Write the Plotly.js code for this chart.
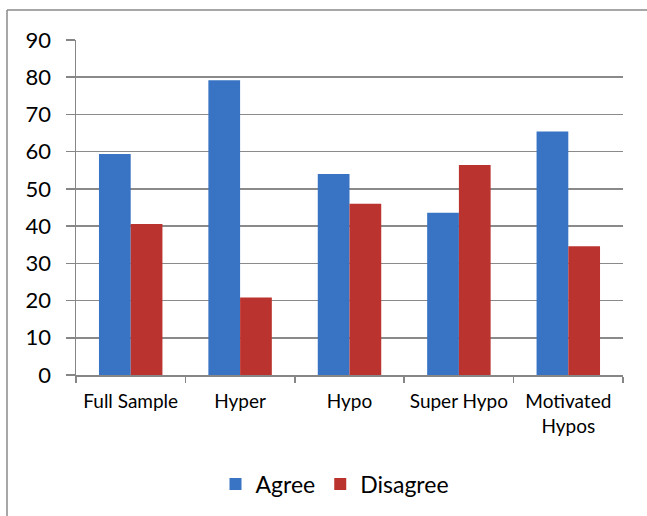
<!DOCTYPE html>
<html><head><meta charset="utf-8">
<script src="https://cdn.plot.ly/plotly-3.0.1.min.js"></script>
<style>html,body{margin:0;padding:0;background:#fff;}</style>
</head><body>
<div id="chart" style="width:647px;height:516px;"></div>
<script>
const categories = ["Full Sample", "Hyper", "Hypo", "Super Hypo", "Motivated<br>Hypos"];
const agree = [59.4, 79.2, 54.0, 43.6, 65.4];
const disagree = [40.6, 20.8, 46.0, 56.4, 34.6];
const yTicks = [0, 10, 20, 30, 40, 50, 60, 70, 80, 90];

const FONT = "Lato, 'Open Sans', sans-serif";
const PL = 76, PR = 623, PT = 40, PB = 376;
const PW = PR - PL, PH = PB - PT;
const traces = [
  {type: "bar", name: "Agree", x: categories, y: agree,
   marker: {color: "#3873c4", line: {width: 0}}},
  {type: "bar", name: "Disagree", x: categories, y: disagree,
   marker: {color: "#bb332e", line: {width: 0}}}
];
const layout = {
  width: 647, height: 516,
  margin: {l: PL, r: 647 - PR, t: PT, b: 516 - PB},
  paper_bgcolor: "#fff", plot_bgcolor: "#fff",
  barmode: "group", bargap: 0.42, bargroupgap: 0,
  font: {family: FONT, color: "#000"},
  xaxis: {
    type: "category", tickson: "boundaries", ticks: "outside", ticklen: 6,
    tickcolor: "#868686", tickwidth: 1.5,
    showline: true, linecolor: "#868686", linewidth: 1.5,
    tickfont: {size: 19, family: FONT, color: "#000"},
    ticklabelstandoff: 9,
    showgrid: false, fixedrange: true
  },
  yaxis: {
    range: [0, 90], tickvals: yTicks, ticktext: yTicks.map(String),
    ticks: "outside", ticklen: 9, tickcolor: "#868686", tickwidth: 1.5,
    showline: true, linecolor: "#868686", linewidth: 1.5,
    showgrid: true, gridcolor: "#8a8a8a", gridwidth: 1.5,
    zeroline: false,
    tickfont: {size: 22, family: FONT, color: "#000"},
    ticklabelstandoff: 10,
    fixedrange: true
  },
  legend: {
    orientation: "h", x: (335 - PL) / PW, xanchor: "center",
    y: (PB - 484) / PH, yanchor: "middle",
    font: {size: 23, family: FONT, color: "#000"},
    itemwidth: 30, traceorder: "normal"
  },
  shapes: [
    {type: "line", xref: "paper", yref: "paper",
     x0: (7 - PL) / PW, x1: (7 - PL) / PW, y0: (PB - 520) / PH, y1: (PB - 10) / PH,
     line: {color: "#8a8a8a", width: 1.5}},
    {type: "line", xref: "paper", yref: "paper",
     x0: (7 - PL) / PW, x1: (650 - PL) / PW, y0: (PB - 10) / PH, y1: (PB - 10) / PH,
     line: {color: "#8a8a8a", width: 1.5}}
  ],
  showlegend: true
};
Plotly.newPlot("chart", traces, layout, {displayModeBar: false, staticPlot: true});
</script>
</body></html>
